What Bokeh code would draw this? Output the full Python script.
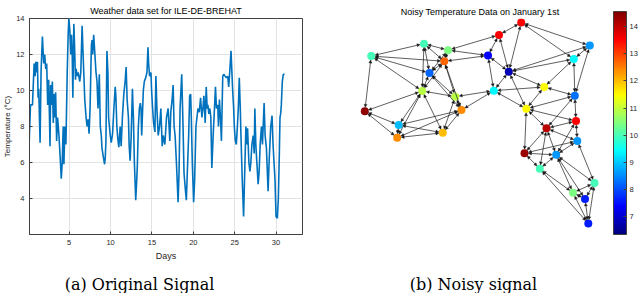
import numpy as np
from bokeh.plotting import figure
from bokeh.models import (Range1d, FixedTicker, Label, ColumnDataSource, Arrow, NormalHead,
                          LinearColorMapper, ColorBar)
from bokeh.layouts import row, column
from bokeh.embed import file_html
from bokeh.resources import INLINE

# ---------------- data: left panel ----------------
days = [0.16, 0.32, 0.56, 0.76, 0.88, 0.96, 1.08, 1.16, 1.24, 1.32, 1.40, 1.48, 1.60, 1.76, 1.92, 2.04,
        2.16, 2.28, 2.40, 2.52, 2.60, 2.68, 2.76, 2.88, 2.96, 3.08, 3.16, 3.28, 3.36, 3.48, 3.60, 3.76,
        3.92, 4.04, 4.16, 4.24, 4.28, 4.36, 4.48, 4.60, 4.76, 4.88, 4.96, 5.08, 5.20, 5.28, 5.36, 5.44,
        5.56, 5.64, 5.76, 5.84, 5.96, 6.08, 6.28, 6.40, 6.56, 6.64, 6.76, 6.88, 7.04, 7.16, 7.28, 7.40,
        7.52, 7.68, 7.76, 7.84, 7.96, 8.08, 8.24, 8.36, 8.48, 8.64, 8.76, 8.88, 8.96, 9.16, 9.28, 9.36,
        9.44, 9.56, 9.68, 9.76, 9.96, 10.08, 10.24, 10.40, 10.56, 10.64, 10.76, 10.88, 11.00, 11.16,
        11.28, 11.44, 11.60, 11.76, 11.88, 12.00, 12.16, 12.24, 12.36, 12.48, 12.64, 12.76, 12.88,
        13.04, 13.16, 13.24, 13.36, 13.48, 13.60, 13.68, 13.76, 13.96, 14.08, 14.24, 14.40, 14.52,
        14.60, 14.72, 14.88, 14.96, 15.08, 15.20, 15.36, 15.48, 15.60, 15.76, 15.92, 16.08, 16.24,
        16.36, 16.56, 16.76, 16.96, 17.16, 17.28, 17.44, 17.56, 17.68, 17.80, 17.96, 18.16, 18.28,
        18.40, 18.60, 18.76, 18.88, 19.04, 19.16, 19.28, 19.44, 19.56, 19.68, 19.76, 19.88, 20.04,
        20.16, 20.32, 20.44, 20.56, 20.72, 20.88, 21.04, 21.16, 21.28, 21.44, 21.56, 21.68, 21.76,
        21.88, 22.00, 22.12, 22.24, 22.40, 22.56, 22.68, 22.80, 22.96, 23.04, 23.16, 23.28, 23.40,
        23.56, 23.68, 23.84, 24.00, 24.16, 24.28, 24.40, 24.56, 24.64, 24.76, 24.88, 24.96, 25.08,
        25.20, 25.28, 25.44, 25.56, 25.68, 25.76, 25.92, 26.08, 26.24, 26.36, 26.44, 26.56, 26.72,
        26.84, 26.96, 27.08, 27.24, 27.36, 27.44, 27.56, 27.68, 27.84, 27.96, 28.08, 28.24, 28.36,
        28.56, 28.68, 28.84, 29.04, 29.16, 29.36, 29.52, 29.64, 29.76, 29.88, 30.00, 30.16, 30.28,
        30.40, 30.48, 30.56, 30.64, 30.76, 30.88, 31.04]
temps = [7.1, 9.2, 9.2, 11.5, 10.8, 11.6, 11.0, 11.6, 9.6, 10.1, 8.5, 7.1, 11.1, 13.0, 11.5, 12.0,
         11.2, 11.5, 9.2, 10.6, 8.8, 6.9, 10.3, 9.2, 10.5, 8.2, 9.8, 8.5, 9.9, 7.2, 8.5, 7.5,
         6.2, 5.1, 6.0, 7.5, 8.0, 5.9, 8.0, 7.0, 11.0, 13.2, 14.0, 13.3, 12.0, 13.1, 12.1, 9.6,
         13.7, 12.6, 10.6, 11.2, 10.8, 11.0, 10.5, 11.0, 13.6, 12.5, 11.0, 9.5, 8.5, 8.0, 8.4, 7.6,
         9.0, 12.5, 12.8, 12.0, 13.1, 12.2, 11.0, 10.5, 9.0, 10.9, 8.0, 7.5, 6.8, 6.2, 5.9, 6.3,
         7.2, 12.2, 11.0, 8.5, 7.5, 7.1, 7.6, 9.0, 10.2, 9.7, 8.0, 7.3, 6.85, 8.0,
         6.9, 8.6, 9.8, 10.5, 11.3, 9.5, 8.5, 7.0, 6.1, 7.3, 10.1, 8.5, 6.0,
         3.9, 5.0, 5.9, 8.0, 9.0, 9.3, 9.0, 7.5, 10.0, 10.5, 10.7, 11.0, 12.4,
         11.5, 10.8, 11.0, 10.0, 9.0, 8.2, 7.7, 10.8, 9.0, 7.5, 8.0, 9.0, 6.9,
         7.5, 7.0, 8.5, 9.0, 7.2, 8.8, 9.5, 10.3, 8.0, 7.5, 6.0, 3.8, 5.5,
         9.0, 10.9, 8.0, 5.4, 4.5, 3.9, 5.5, 7.5, 9.7, 9.8, 8.5, 6.0, 3.8,
         5.0, 8.0, 8.5, 9.0, 8.8, 9.6, 8.5, 9.0, 9.7, 8.2, 10.2, 9.0, 9.2,
         8.7, 9.0, 8.5, 5.7, 7.5, 9.0, 10.2, 9.0, 9.2, 8.0, 9.5, 8.5, 7.2,
         10.8, 10.9, 10.8, 10.7, 10.8, 10.2, 11.0, 12.2, 11.3, 10.0, 9.0, 8.0, 7.2,
         7.0, 7.6, 9.0, 10.7, 9.0, 7.5, 5.0, 3.0, 5.9, 8.0, 7.0, 7.9, 6.0,
         5.5, 6.0, 7.0, 7.5, 6.5, 9.0, 7.0, 6.0, 4.8, 5.5, 7.0, 8.0, 7.0,
         9.3, 7.5, 6.8, 4.4, 6.0, 8.0, 8.6, 7.0, 6.0, 5.0, 3.0, 2.9, 4.0,
         6.5, 8.5, 8.7, 9.2, 10.5, 10.9, 10.9]
x_ticks = [5, 10, 15, 20, 25, 30]
y_ticks = [4, 6, 8, 10, 12, 14]

# ---------------- data: right panel (graph) ----------------
node_x = [200.7, 178.5, 269.3, 103.5, 127.5, 50.7, 167.5, 123.8, 253.3, 188.3, 109.0, 101.7, 173.3,
          223.7, 134.8, 254.3, 44.3, 141.0, 205.8, 255.5, 78.2, 226.0, 76.7, 122.3, 256.8, 204.0,
          235.7, 219.3, 274.0, 252.5, 264.5, 267.8]
node_y = [272.0, 259.5, 248.8, 250.7, 244.2, 238.3, 238.8, 233.0, 235.3, 222.5, 221.2, 203.2, 203.5,
          207.2, 197.5, 198.5, 182.8, 184.0, 185.3, 173.0, 169.0, 165.7, 156.3, 161.2, 153.0, 140.7,
          139.0, 125.0, 110.7, 101.0, 94.7, 70.0]
node_temp = [13.5, 13.5, 8.6, 10.0, 10.45, 10.0, 7.4, 12.7, 9.4, 6.8, 8.2, 10.9, 9.4,
             11.5, 10.9, 8.3, 14.4, 12.4, 11.5, 13.5, 8.9, 14.05, 12.4, 12.0, 8.6, 14.3,
             8.6, 10.0, 10.0, 10.45, 7.6, 7.6]
edges = [(6, 4), (6, 8), (6, 11), (6, 12), (6, 17), (4, 5), (4, 11), (4, 12), (4, 8),
         (5, 8), (5, 11), (5, 7), (5, 2), (8, 11), (8, 12), (8, 15), (8, 18), (8, 7),
         (11, 12), (11, 15), (11, 18), (12, 17), (12, 21), (12, 23), (12, 24), (12, 15),
         (15, 18), (15, 24), (15, 13), (17, 21), (17, 23), (18, 21), (18, 23), (18, 24), (18, 13),
         (21, 23), (21, 24), (23, 24),
         (1, 2), (1, 10), (1, 3), (1, 9), (2, 7), (2, 10), (7, 10), (7, 13),
         (10, 9), (10, 14), (10, 13), (10, 19), (10, 3), (3, 9), (3, 16), (9, 14), (9, 16),
         (13, 14), (13, 19), (14, 16), (14, 19), (16, 19), (16, 20), (19, 20), (19, 22), (19, 26),
         (20, 22), (20, 25), (22, 16),
         (20, 27), (22, 26), (22, 27), (22, 28), (22, 25), (25, 26), (25, 27), (25, 29),
         (26, 27), (26, 28), (27, 28), (27, 29), (27, 30), (27, 31), (28, 30), (28, 32),
         (29, 30), (29, 31), (29, 32), (30, 31), (30, 32), (31, 32)]
cbar_ticks = [7, 8, 9, 10, 11, 12, 13, 14]
cbar_low, cbar_high = 6.35, 14.55

FONT = "Liberation Sans"
SERIF = "DejaVu Serif"
AX = "#404040"


def jet(n=256):
    out = []
    for i in range(n):
        t = i / (n - 1)
        r = min(max(1.5 - abs(4 * t - 3), 0), 1)
        g = min(max(1.5 - abs(4 * t - 2), 0), 1)
        b = min(max(1.5 - abs(4 * t - 1), 0), 1)
        out.append("#%02x%02x%02x" % (int(r * 255), int(g * 255), int(b * 255)))
    return out


def style_title(t):
    t.align = "center"
    t.text_font = FONT
    t.text_font_size = "9px"
    t.text_font_style = "normal"
    t.text_color = "#000000"
    t.standoff = 6


# ---------------- left figure ----------------
p1 = figure(width=320, height=263, x_range=Range1d(0.2, 33.2), y_range=Range1d(2, 14),
            output_backend="svg", toolbar_location=None, title="Weather data set for ILE-DE-BREHAT",
            min_border_left=27, min_border_right=18, min_border_top=18, min_border_bottom=28)
p1.line(days, temps, line_width=1.6, color="#0072BD")
p1.xaxis.ticker = FixedTicker(ticks=x_ticks)
p1.yaxis.ticker = FixedTicker(ticks=y_ticks)
for ax in (p1.xaxis[0], p1.yaxis[0]):
    ax.major_tick_in = 3
    ax.major_tick_out = 0
    ax.minor_tick_line_color = None
    ax.axis_line_color = AX
    ax.major_tick_line_color = AX
    ax.major_label_text_font = FONT
    ax.major_label_text_font_size = "7.5px"
    ax.major_label_text_color = "#262626"
    ax.axis_label_text_font = FONT
    ax.axis_label_text_font_style = "normal"
    ax.axis_label_text_color = "#262626"
p1.xaxis.major_label_standoff = 5
p1.yaxis.major_label_standoff = 5
p1.xaxis.axis_label = "Days"
p1.xaxis.axis_label_text_font_size = "9px"
p1.xaxis.axis_label_standoff = 3
p1.yaxis.axis_label = "Temperature (°C)"
p1.yaxis.axis_label_text_font_size = "8px"
p1.yaxis.axis_label_standoff = 1
p1.grid.grid_line_color = "#e3e3e3"
p1.outline_line_color = AX
p1.outline_line_alpha = 1
style_title(p1.title)

# ---------------- right figure (graph) ----------------
# plot frame is aligned with the left plot's frame (window rows 18..235)
p2 = figure(width=319, height=263, x_range=Range1d(0, 319), y_range=Range1d(59, 276),
            output_backend="svg", toolbar_location=None, title="Noisy Temperature Data on January 1st",
            x_axis_location=None, y_axis_location=None,
            min_border_left=0, min_border_right=0, min_border_top=18, min_border_bottom=28)
p2.grid.visible = False
p2.outline_line_color = None
style_title(p2.title)
p2.title.vertical_align = "top"
p2.title.standoff = 0

nx = np.array(node_x)
ny = np.array(node_y)
x0, y0, x1, y1 = [], [], [], []
shrink = 4.0
for a, b in edges:
    ax_, ay_ = nx[a - 1], ny[a - 1]
    bx_, by_ = nx[b - 1], ny[b - 1]
    d = np.hypot(bx_ - ax_, by_ - ay_)
    ux, uy = (bx_ - ax_) / d, (by_ - ay_) / d
    x0.append(ax_ + ux * shrink)
    y0.append(ay_ + uy * shrink)
    x1.append(bx_ - ux * shrink)
    y1.append(by_ - uy * shrink)
esrc = ColumnDataSource(dict(x0=x0, y0=y0, x1=x1, y1=y1))
p2.add_layout(Arrow(source=esrc, x_start="x0", y_start="y0", x_end="x1", y_end="y1",
                    line_color="#1a1a1a", line_width=0.7,
                    end=NormalHead(size=3, fill_color="#1a1a1a", line_color="#1a1a1a", line_width=0.4),
                    start=NormalHead(size=3, fill_color="#1a1a1a", line_color="#1a1a1a", line_width=0.4)))

mapper = LinearColorMapper(palette=jet(), low=cbar_low, high=cbar_high)
nsrc = ColumnDataSource(dict(x=node_x, y=node_y, t=node_temp))
p2.scatter("x", "y", source=nsrc, size=8, fill_color={"field": "t", "transform": mapper}, line_color=None)

cb = ColorBar(color_mapper=mapper, width=13, height=223, location=(293, 0), margin=0, padding=0,
              ticker=FixedTicker(ticks=cbar_ticks), major_tick_in=3, major_tick_out=0,
              major_tick_line_color=AX, bar_line_color=AX, label_standoff=3,
              major_label_text_font=FONT, major_label_text_font_size="7.5px",
              major_label_text_color="#262626", minor_tick_line_color=None,
              background_fill_color=None, border_line_color=None)
p2.add_layout(cb, "center")

# ---------------- captions ----------------
cap = figure(width=639, height=30, x_range=Range1d(0, 639), y_range=Range1d(0, 30),
             output_backend="svg", toolbar_location=None, title=None,
             x_axis_location=None, y_axis_location=None,
             min_border_left=0, min_border_right=0, min_border_top=0, min_border_bottom=0)
cap.grid.visible = False
cap.outline_line_color = None
cap.add_layout(Label(x=139, y=9.5, x_units="screen", y_units="screen", text="(a) Original Signal",
                     text_font=SERIF, text_font_size="16px", text_align="center", text_baseline="middle",
                     text_color="#000000"))
cap.add_layout(Label(x=473, y=9.5, x_units="screen", y_units="screen", text="(b) Noisy signal",
                     text_font=SERIF, text_font_size="16px", text_align="center", text_baseline="middle",
                     text_color="#000000"))

layout = column(row(p1, p2), cap)
open("out.html", "w").write(file_html(layout, INLINE))
